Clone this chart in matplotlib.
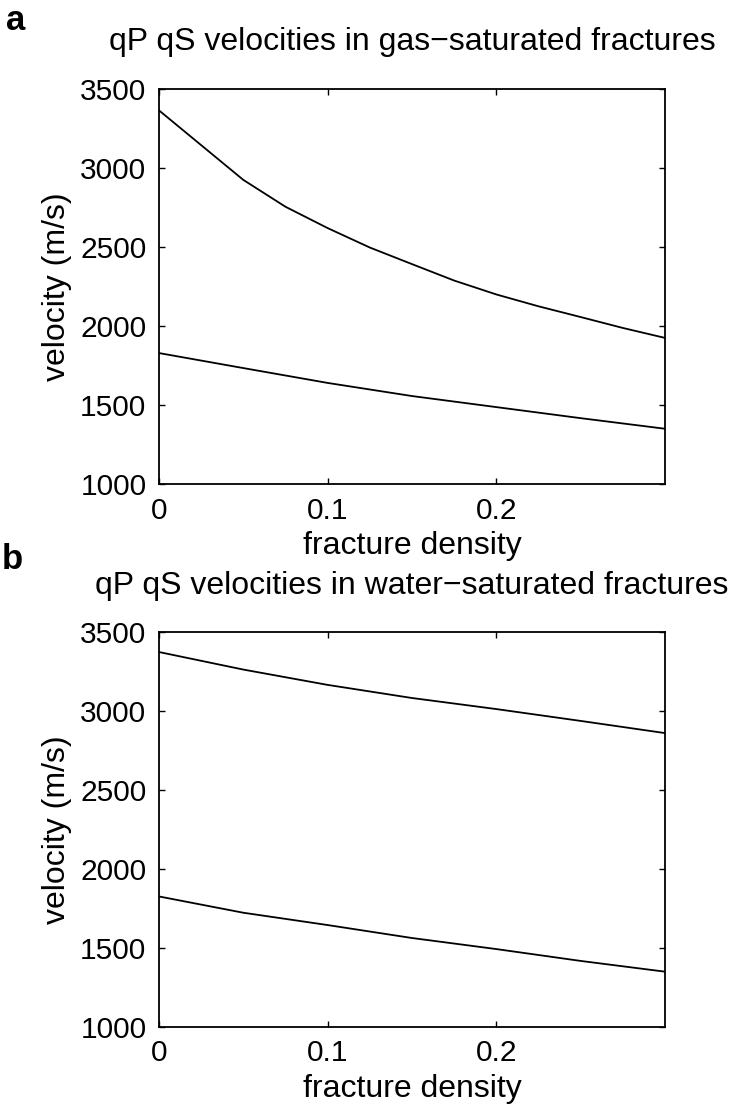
import matplotlib
matplotlib.use("Agg")
import matplotlib.pyplot as plt

plt.rcParams['font.family'] = ['Liberation Sans', 'DejaVu Sans']

# Data
density_p_gas = [0.0, 0.05, 0.075, 0.10, 0.125, 0.15, 0.175, 0.20, 0.225, 0.25, 0.275, 0.30]
qp_gas = [3365, 2925, 2755, 2620, 2497, 2392, 2288, 2200, 2125, 2057, 1988, 1925]
density = [0.0, 0.05, 0.10, 0.15, 0.20, 0.25, 0.30]
qs_gas = [1829, 1734, 1640, 1557, 1487, 1417, 1350]
qp_water = [3373, 3262, 3165, 3082, 3012, 2937, 2860]
qs_water = [1826, 1723, 1645, 1563, 1493, 1418, 1350]

xticks = [0, 0.1, 0.2]
xticklabels = ['0', '0.1', '0.2']
yticks = [1000, 1500, 2000, 2500, 3000, 3500]

titles = ['qP qS velocities in gas\u2212saturated fractures',
          'qP qS velocities in water\u2212saturated fractures']
panel_labels = ['a', 'b']
xlabel = 'fracture density'
ylabel = 'velocity (m/s)'

fig = plt.figure(figsize=(7.35, 11.13), dpi=100)
ax_a = fig.add_axes([0.2163, 0.5651, 0.6884, 0.3549])
ax_b = fig.add_axes([0.2163, 0.0773, 0.6884, 0.3549])

FS_TICK = 21.5
FS_TEXT = 23
for ax, title, xu, upper, lower, ty in [
        (ax_a, titles[0], density_p_gas, qp_gas, qs_gas, 1.119),
        (ax_b, titles[1], density, qp_water, qs_water, 1.117)]:
    ax.plot(xu, upper, color='black', lw=1.3)
    ax.plot(density, lower, color='black', lw=1.3)
    ax.set_xlim(0, 0.3)
    ax.set_ylim(1000, 3500)
    ax.set_xticks(xticks)
    ax.set_xticklabels(xticklabels)
    ax.set_yticks(yticks)
    ax.tick_params(direction='in', length=4, width=1.0, top=True, right=True,
                   labelsize=FS_TICK, pad=9, colors='black')
    for s in ax.spines.values():
        s.set_linewidth(1.3)
    ax.set_title(title, fontsize=FS_TEXT, y=ty, va='center', pad=0)
    ax.set_xlabel(xlabel, fontsize=FS_TEXT, va='center')
    ax.xaxis.set_label_coords(0.5, -0.156)
    ax.set_ylabel(ylabel, fontsize=FS_TEXT, va='center')
    ax.yaxis.set_label_coords(-0.202, 0.5)

fig.text(0.0218, 0.982, panel_labels[0], fontsize=25, fontweight='bold',
         ha='center', va='center')
fig.text(0.0170, 0.4969, panel_labels[1], fontsize=25, fontweight='bold',
         ha='center', va='center')

fig.savefig('out.png', dpi=100)
